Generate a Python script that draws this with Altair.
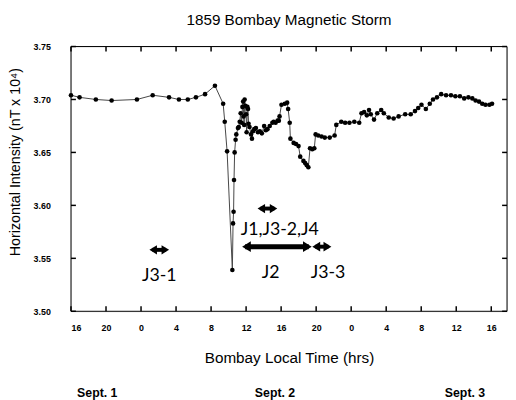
import altair as alt
import pandas as pd

# ---- data (hours since Sept 1 00:00, field in nT x 10^4)
hours = [16.0, 16.98, 18.84, 20.64, 23.53, 25.33, 27.20, 28.33, 29.34, 30.27,
         31.31, 32.44, 33.38, 33.56, 33.83, 34.43, 34.51, 34.57, 34.62, 34.69,
         34.80, 34.88, 35.07, 35.16, 35.27, 35.38, 35.49, 35.58, 35.66, 35.72,
         35.78, 35.83, 35.92, 36.00, 36.06, 36.15, 36.22, 36.28, 36.39, 36.56,
         36.67, 36.79, 36.93, 37.12, 37.35, 37.57, 37.80, 38.06, 38.25, 38.44,
         38.70, 39.00, 39.15, 39.37, 39.60, 39.74, 39.82, 40.04, 40.42, 40.69,
         40.80, 40.98, 41.06, 41.43, 41.70, 41.99, 42.18, 42.55, 42.74, 42.93,
         43.11, 43.30, 43.56, 43.79, 43.94, 44.24, 44.62, 44.99, 45.55, 46.11,
         46.30, 46.87, 47.31, 47.80, 48.36, 48.92, 49.18, 49.48, 49.79, 50.04,
         50.24, 50.61, 50.98, 51.43, 51.73, 52.29, 52.85, 53.42, 54.17, 54.80,
         55.29, 55.66, 56.03, 56.53, 56.98, 57.35, 57.80, 58.28, 58.84, 59.40,
         59.90, 60.42, 60.91, 61.39, 61.84, 62.21, 62.60, 62.97, 63.34, 63.79,
         64.09]
values = [3.704, 3.702, 3.700, 3.699, 3.700, 3.704, 3.702, 3.700, 3.700, 3.702,
          3.705, 3.713, 3.696, 3.679, 3.651, 3.539, 3.583, 3.594, 3.624, 3.650,
          3.662, 3.667, 3.673, 3.674, 3.679, 3.687, 3.678, 3.693, 3.698, 3.684,
          3.676, 3.700, 3.694, 3.686, 3.669, 3.693, 3.691, 3.677, 3.674, 3.667,
          3.663, 3.670, 3.672, 3.673, 3.669, 3.670, 3.668, 3.675, 3.671, 3.672,
          3.675, 3.678, 3.679, 3.678, 3.680, 3.680, 3.684, 3.695, 3.696, 3.697,
          3.691, 3.678, 3.663, 3.659, 3.658, 3.656, 3.646, 3.642, 3.640, 3.638,
          3.636, 3.654, 3.653, 3.654, 3.667, 3.666, 3.665, 3.664, 3.664, 3.666,
          3.676, 3.679, 3.678, 3.678, 3.679, 3.678, 3.687, 3.688, 3.685, 3.690,
          3.686, 3.681, 3.687, 3.690, 3.687, 3.683, 3.682, 3.684, 3.686, 3.686,
          3.689, 3.692, 3.695, 3.691, 3.696, 3.700, 3.702, 3.705, 3.704, 3.704,
          3.703, 3.703, 3.701, 3.702, 3.701, 3.699, 3.698, 3.696, 3.695, 3.695,
          3.696]

xtick_hours = [16, 20, 24, 28, 32, 36, 40, 44, 48, 52, 56, 60, 64]
ytick_vals = [3.50, 3.55, 3.60, 3.65, 3.70, 3.75]

arrow_start = [24.96, 37.31, 35.55, 43.56]
arrow_end = [27.20, 39.56, 43.49, 45.74]
arrow_level = [3.558, 3.597, 3.561, 3.561]
arrow_width = [4, 4, 5, 4]
arrow_head = [90, 90, 121, 100]

label_texts = ["J3-1", "J1,J3-2,J4", "J2", "J3-3"]
label_hours = [26.08, 39.84, 38.81, 45.36]
label_levels = [3.529, 3.572, 3.531, 3.531]

date_texts = ["Sept. 1", "Sept. 2", "Sept. 3"]
date_hours = [19.0, 39.3, 61.0]

# ---- layout
W, H = 443, 269
X0, X1 = 16, 65.8
PX_PER_H = W / (X1 - X0)
INSET = 3 / PX_PER_H
FONT = "Liberation Sans"

xs = alt.Scale(domain=[X0, X1], nice=False, zero=False)
ys = alt.Scale(domain=[3.50, 3.75], nice=False, zero=False)

xaxis = alt.Axis(values=xtick_hours, labelExpr="datum.value % 24", ticks=False,
                 domain=False, grid=False, labelFont=FONT, labelFontWeight="bold",
                 labelFontSize=9, labelPadding=13, labelColor="black",
                 title="Bombay Local Time (hrs)", titleFont=FONT, titleFontSize=15.5,
                 titleFontWeight="normal", titlePadding=18, titleColor="black")
yaxis = alt.Axis(values=ytick_vals, format=".2f", ticks=False, domain=False, grid=False,
                 labelFont=FONT, labelFontWeight="bold", labelFontSize=9,
                 labelPadding=21, labelColor="black",
                 title="Horizontal Intensity (nT x 10\u2074)", titleFont=FONT,
                 titleFontSize=14.5, titleFontWeight="normal", titleColor="black",
                 titleAngle=270, titleX=-56, titleY=117, titleAlign="center",
                 titleBaseline="middle")


def X(field, **kw):
    return alt.X(field, type="quantitative", scale=xs, axis=xaxis, **kw)


def Y(field, **kw):
    return alt.Y(field, type="quantitative", scale=ys, axis=yaxis, **kw)


df = pd.DataFrame({"i": range(len(hours)), "t": hours, "v": values})

line = alt.Chart(df).mark_line(color="#444444", strokeWidth=1).encode(
    x=X("t"), y=Y("v"), order=alt.Order("i:Q"))
pts = alt.Chart(df).mark_circle(size=22, color="black", opacity=1).encode(
    x=X("t"), y=Y("v"))

# frame
frame_style = dict(color="black", strokeWidth=1)
fdf = pd.DataFrame({"t": [X0], "v": [3.5]})
f_top = alt.Chart(fdf).mark_rule(**frame_style).encode(
    x=alt.value(0), x2=alt.value(W), y=alt.value(0))
f_bot = alt.Chart(fdf).mark_rule(**frame_style).encode(
    x=alt.value(0), x2=alt.value(W), y=alt.value(H))
f_left = alt.Chart(fdf).mark_rule(**frame_style).encode(
    x=alt.value(0), y=alt.value(0), y2=alt.value(H))
f_right = alt.Chart(fdf).mark_rule(**frame_style).encode(
    x=alt.value(W), y=alt.value(0), y2=alt.value(H))

# ticks (inward)
xt = pd.DataFrame({"t": xtick_hours})
yt = pd.DataFrame({"v": ytick_vals})
tick_style = dict(color="black", strokeWidth=1.5)
bt = alt.Chart(xt).mark_rule(**tick_style).encode(
    x=X("t"), y=alt.value(H - 5), y2=alt.value(H))
tt = alt.Chart(xt).mark_rule(**tick_style).encode(
    x=X("t"), y=alt.value(0), y2=alt.value(5))
lt = alt.Chart(yt).mark_rule(**tick_style).encode(
    y=Y("v"), x=alt.value(0), x2=alt.value(5))
rt = alt.Chart(yt).mark_rule(**tick_style).encode(
    y=Y("v"), x=alt.value(W - 5), x2=alt.value(W))

# arrows
adf = pd.DataFrame({
    "t": [a + INSET for a in arrow_start],
    "e": [b - INSET for b in arrow_end],
    "v": arrow_level, "w": arrow_width,
})
shafts = alt.Chart(adf).mark_rule(color="black", strokeCap="butt").encode(
    x=X("t"), x2="e:Q", y=Y("v"),
    strokeWidth=alt.StrokeWidth("w:Q", scale=None),
)
lhdf = pd.DataFrame({"t": arrow_start, "v": arrow_level, "hsz": arrow_head})
rhdf = pd.DataFrame({"t": arrow_end, "v": arrow_level, "hsz": arrow_head})
lheads = alt.Chart(lhdf).mark_point(shape="M0,0L1.6,-1L1.6,1Z", filled=True,
                                    color="black", opacity=1).encode(
    x=X("t"), y=Y("v"), size=alt.Size("hsz:Q", scale=None))
rheads = alt.Chart(rhdf).mark_point(shape="M0,0L-1.6,-1L-1.6,1Z", filled=True,
                                    color="black", opacity=1).encode(
    x=X("t"), y=Y("v"), size=alt.Size("hsz:Q", scale=None))

ldf = pd.DataFrame({"txt": label_texts, "t": label_hours, "v": label_levels})
labels = alt.Chart(ldf).mark_text(font="Lato", fontSize=18, color="black",
                                  align="center", baseline="alphabetic").encode(
    x=X("t"), y=Y("v"), text="txt:N")

ddf = pd.DataFrame({"d": date_texts, "t": date_hours})
dates = alt.Chart(ddf).mark_text(font=FONT, fontSize=12.5, fontWeight="bold",
                                 color="black", align="center",
                                 baseline="middle").encode(
    x=X("t"), y=alt.value(352.5), text="d:N")

chart = alt.layer(line, pts, f_top, f_bot, f_left, f_right, bt, tt, lt, rt,
                  shafts, lheads, rheads, labels, dates).properties(
    width=W, height=H,
    title=alt.TitleParams("1859 Bombay Magnetic Storm", font=FONT, fontSize=15.5,
                          fontWeight="normal", color="black", anchor="middle",
                          offset=14),
    autosize=alt.AutoSizeParams(type="none"),
    padding={"left": 64, "top": 36, "right": 1, "bottom": 87},
).configure_view(stroke=None).configure(background="white")

chart.save("out.html", embed_options={"renderer": "svg", "actions": False})
